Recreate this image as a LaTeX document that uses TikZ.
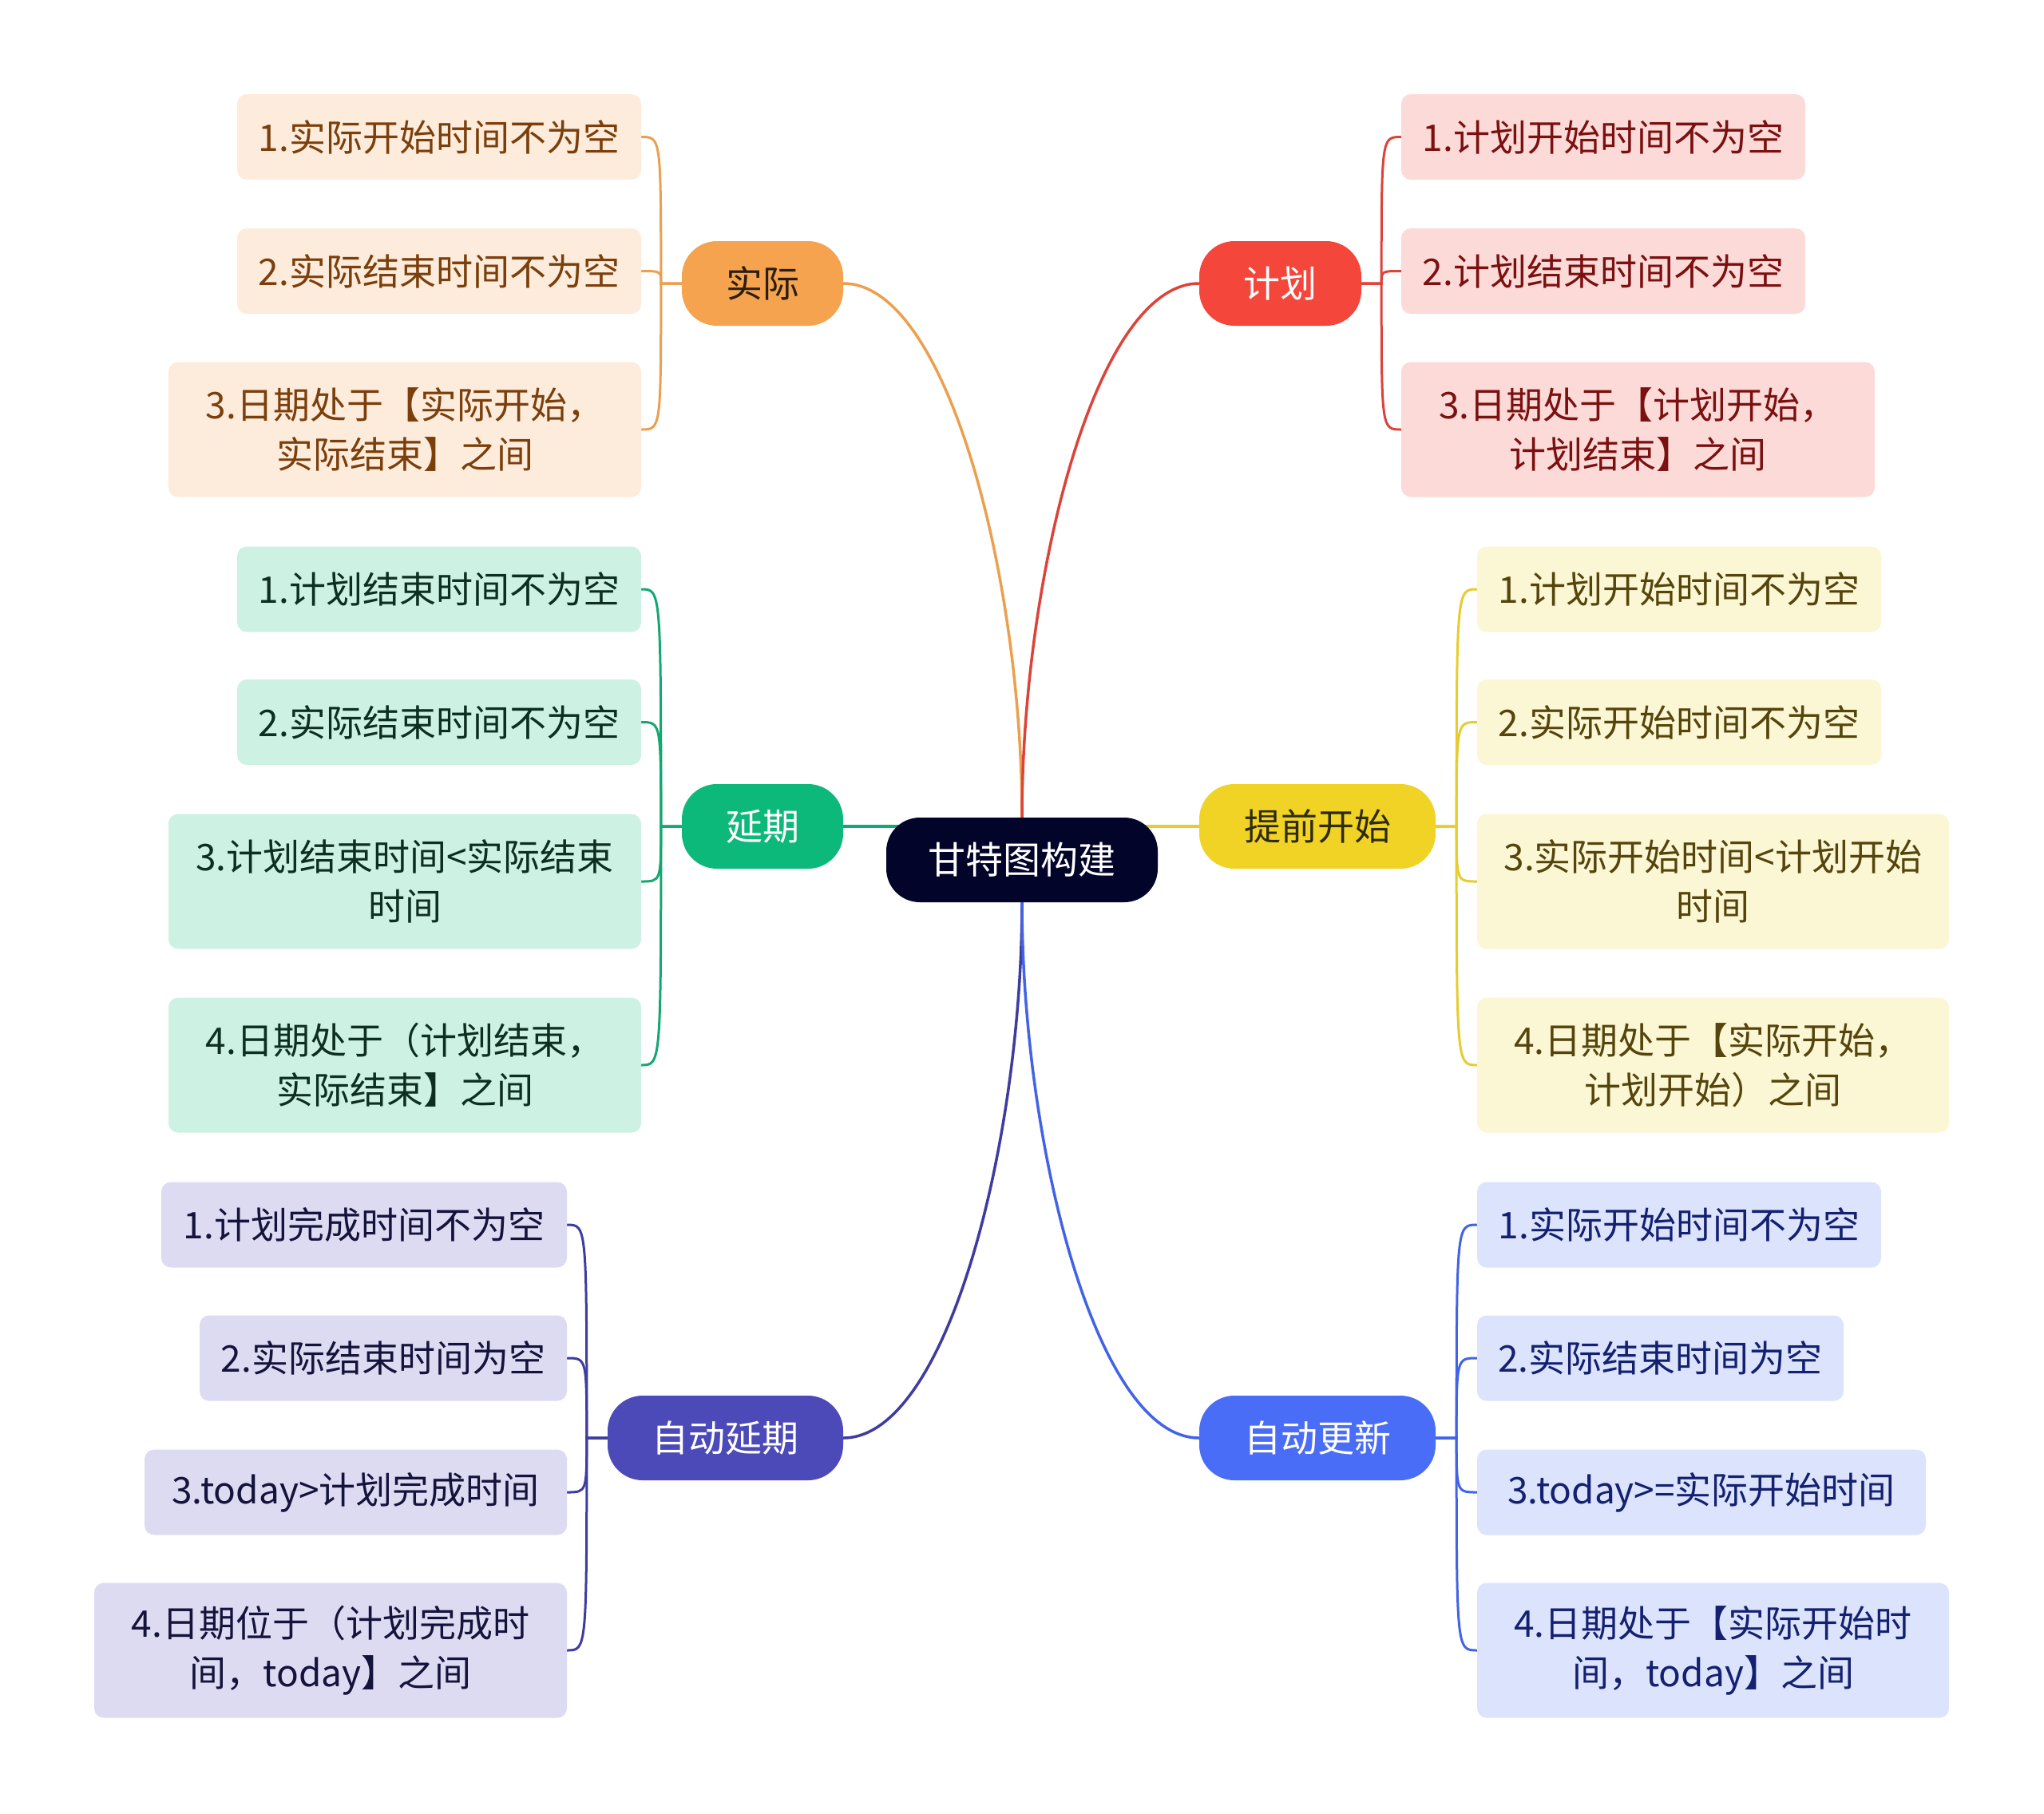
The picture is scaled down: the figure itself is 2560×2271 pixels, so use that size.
\documentclass[tikz,border=0pt]{standalone}
\usepackage{fontspec}
\setmainfont{Noto Sans CJK SC}
\usetikzlibrary{calc,backgrounds}
\definecolor{rootc}{HTML}{03042A}
% orange group
\definecolor{obr}{HTML}{F5A34E}
\definecolor{oln}{HTML}{EBA050}
\definecolor{olf}{HTML}{FDEBDC}
\definecolor{otx}{HTML}{7B3F0B}
\definecolor{obt}{HTML}{2A1E0E}
% red group
\definecolor{rbr}{HTML}{F5463C}
\definecolor{rln}{HTML}{DC443A}
\definecolor{rlf}{HTML}{FCDAD8}
\definecolor{rtx}{HTML}{7A1010}
% green group
\definecolor{gbr}{HTML}{0DB97A}
\definecolor{gln}{HTML}{13A872}
\definecolor{glf}{HTML}{CDF1E3}
\definecolor{gtx}{HTML}{0D2F22}
% yellow group
\definecolor{ybr}{HTML}{F0D324}
\definecolor{yln}{HTML}{E6CC2E}
\definecolor{ylf}{HTML}{FBF6D3}
\definecolor{ytx}{HTML}{55450C}
\definecolor{ybt}{HTML}{2E2A0A}
% indigo group
\definecolor{ibr}{HTML}{4C49B9}
\definecolor{iln}{HTML}{3F3CA0}
\definecolor{ilf}{HTML}{DDDBF2}
\definecolor{itx}{HTML}{14133B}
% blue group
\definecolor{bbr}{HTML}{4A6DF7}
\definecolor{bln}{HTML}{4263E6}
\definecolor{blf}{HTML}{DCE3FC}
\definecolor{btx}{HTML}{142070}
\begin{document}
\begin{tikzpicture}[x=1pt,y=-1pt,
  rootnode/.style={rounded corners=42pt, fill=rootc, text=white, minimum width=340pt, minimum height=106pt, inner sep=0pt, font=\fontsize{47}{60}\selectfont},
  branch/.style={rounded corners=44pt, minimum height=106pt, inner sep=0pt, font=\fontsize{46}{60}\selectfont},
  leaf/.style={rounded corners=12pt, inner sep=0pt, align=center, font=\fontsize{46}{62}\selectfont},
  mainline/.style={line width=3.5pt},
  leafline/.style={line width=3pt},
  oleaf/.style={leaf, fill=olf, text=otx},
  rleaf/.style={leaf, fill=rlf, text=rtx},
  gleaf/.style={leaf, fill=glf, text=gtx},
  yleaf/.style={leaf, fill=ylf, text=ytx},
  ileaf/.style={leaf, fill=ilf, text=itx},
  bleaf/.style={leaf, fill=blf, text=btx},
  one/.style={minimum height=107pt},
  two/.style={minimum height=169pt}
]
\useasboundingbox (0,0) rectangle (2560,2271);

% root
\node[rootnode] (root) at (1280,1077) {甘特图构建};

% branches
\node[branch, fill=obr, text=obt, minimum width=202pt] (shiji) at (955,355) {实际};
\node[branch, fill=rbr, text=white, minimum width=203pt] (jihua) at (1603.5,355) {计划};
\node[branch, fill=gbr, text=white, minimum width=202pt] (yanqi) at (955,1035) {延期};
\node[branch, fill=ybr, text=ybt, minimum width=296pt] (tiqian) at (1650,1035) {提前开始};
\node[branch, fill=ibr, text=white, minimum width=295pt] (zdyq) at (908.5,1801) {自动延期};
\node[branch, fill=bbr, text=white, minimum width=296pt] (zdgx) at (1650,1801) {自动更新};

% 实际 leaves
\node[oleaf, one, minimum width=506pt] (A1) at (550,171.5) {1.实际开始时间不为空};
\node[oleaf, one, minimum width=506pt] (A2) at (550,339.5) {2.实际结束时间不为空};
\node[oleaf, two, minimum width=592pt] (A3) at (507,538) {3.日期处于【实际开始，\\实际结束】之间};

% 延期 leaves
\node[gleaf, one, minimum width=506pt] (B1) at (550,738) {1.计划结束时间不为空};
\node[gleaf, one, minimum width=506pt] (B2) at (550,904.5) {2.实际结束时间不为空};
\node[gleaf, two, minimum width=592pt] (B3) at (507,1104) {3.计划结束时间<实际结束\\时间};
\node[gleaf, two, minimum width=592pt] (B4) at (507,1334) {4.日期处于（计划结束，\\实际结束】之间};

% 自动延期 leaves
\node[ileaf, one, minimum width=508pt] (C1) at (456,1534) {1.计划完成时间不为空};
\node[ileaf, one, minimum width=460pt] (C2) at (480,1701) {2.实际结束时间为空};
\node[ileaf, one, minimum width=529pt] (C3) at (445.5,1869) {3.today>计划完成时间};
\node[ileaf, two, minimum width=592pt] (C4) at (414,2067) {4.日期位于（计划完成时\\间，today】之间};

% 计划 leaves
\node[rleaf, one, minimum width=506pt] (D1) at (2008,171.5) {1.计划开始时间不为空};
\node[rleaf, one, minimum width=506pt] (D2) at (2008,339.5) {2.计划结束时间不为空};
\node[rleaf, two, minimum width=593pt] (D3) at (2051.5,538) {3.日期处于【计划开始，\\计划结束】之间};

% 提前开始 leaves
\node[yleaf, one, minimum width=506pt] (E1) at (2103,738) {1.计划开始时间不为空};
\node[yleaf, one, minimum width=506pt] (E2) at (2103,904.5) {2.实际开始时间不为空};
\node[yleaf, two, minimum width=591pt] (E3) at (2145.5,1104) {3.实际开始时间<计划开始\\时间};
\node[yleaf, two, minimum width=591pt] (E4) at (2145.5,1334) {4.日期处于【实际开始，\\计划开始）之间};

% 自动更新 leaves
\node[bleaf, one, minimum width=506pt] (F1) at (2103,1534) {1.实际开始时间不为空};
\node[bleaf, one, minimum width=459pt] (F2) at (2079.5,1701) {2.实际结束时间为空};
\node[bleaf, one, minimum width=562pt] (F3) at (2131,1869) {3.today>=实际开始时间};
\node[bleaf, two, minimum width=591pt] (F4) at (2145.5,2067) {4.日期处于【实际开始时\\间，today】之间};

% spine coordinates
\coordinate (sA) at ([xshift=-26pt]shiji.west);
\coordinate (sB) at ([xshift=-26pt]yanqi.west);
\coordinate (sC) at ([xshift=-26pt]zdyq.west);
\coordinate (sD) at ([xshift=25pt]jihua.east);
\coordinate (sE) at ([xshift=26pt]tiqian.east);
\coordinate (sF) at ([xshift=26pt]zdgx.east);

\begin{scope}[on background layer]
  % main connectors
  \draw[mainline, oln] (root.north) .. controls +(0,-300) and +(130,0) .. (shiji.east);
  \draw[mainline, rln] (root.north) .. controls +(0,-300) and +(-130,0) .. (jihua.west);
  \draw[mainline, gln] (yanqi.east) -- (yanqi.east -| root.center);
  \draw[mainline, yln] (tiqian.west) -- (tiqian.west -| root.center);
  \draw[mainline, iln] (root.south) .. controls +(0,300) and +(130,0) .. (zdyq.east);
  \draw[mainline, bln] (root.south) .. controls +(0,300) and +(-130,0) .. (zdgx.west);
  % leaf connectors
  \foreach \l in {A1,A2,A3}
    \draw[leafline, oln] (shiji.west) -- (sA) .. controls (sA |- \l.east) and (sA |- \l.east) .. (\l.east);
  \foreach \l in {B1,B2,B3,B4}
    \draw[leafline, gln] (yanqi.west) -- (sB) .. controls (sB |- \l.east) and (sB |- \l.east) .. (\l.east);
  \foreach \l in {C1,C2,C3,C4}
    \draw[leafline, iln] (zdyq.west) -- (sC) .. controls (sC |- \l.east) and (sC |- \l.east) .. (\l.east);
  \foreach \l in {D1,D2,D3}
    \draw[leafline, rln] (jihua.east) -- (sD) .. controls (sD |- \l.west) and (sD |- \l.west) .. (\l.west);
  \foreach \l in {E1,E2,E3,E4}
    \draw[leafline, yln] (tiqian.east) -- (sE) .. controls (sE |- \l.west) and (sE |- \l.west) .. (\l.west);
  \foreach \l in {F1,F2,F3,F4}
    \draw[leafline, bln] (zdgx.east) -- (sF) .. controls (sF |- \l.west) and (sF |- \l.west) .. (\l.west);
\end{scope}
\end{tikzpicture}
\end{document}
